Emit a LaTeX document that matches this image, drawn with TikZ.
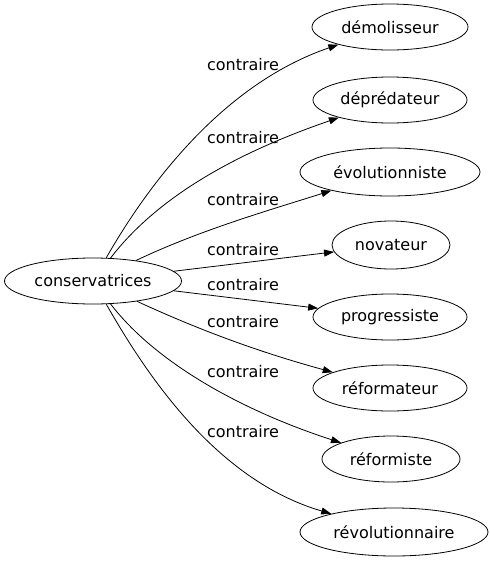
\documentclass[tikz,border=0pt]{standalone}
\usepackage{fontspec}
\setmainfont{DejaVu Sans}
\usetikzlibrary{shapes.geometric,arrows.meta}

\begin{document}
\begin{tikzpicture}[x=1pt,y=-1pt,line width=0.8pt,
  mot/.style={draw,ellipse,inner sep=0pt,font=\fontsize{16}{19}\selectfont},
  lien/.style={-{Triangle[length=10pt,width=7pt]}},
  etiq/.style={font=\fontsize{16}{19}\selectfont}]
\useasboundingbox (0,0) rectangle (490,563);
\node[mot,minimum width=177pt,minimum height=46pt] (cons) at (93,281) {conservatrices};
\node[mot,minimum width=156pt,minimum height=46pt] (demol) at (390,27) {démolisseur};
\node[mot,minimum width=154pt,minimum height=46pt] (depred) at (390,100) {déprédateur};
\node[mot,minimum width=180pt,minimum height=48pt] (evol) at (390,172) {évolutionniste};
\node[mot,minimum width=118pt,minimum height=48pt] (nov) at (391,245) {novateur};
\node[mot,minimum width=154pt,minimum height=46pt] (progr) at (390,317) {progressiste};
\node[mot,minimum width=154pt,minimum height=46pt] (reformat) at (390,388) {réformateur};
\node[mot,minimum width=138pt,minimum height=46pt] (reform) at (391,459) {réformiste};
\node[mot,minimum width=188pt,minimum height=48pt] (revol) at (394,532) {révolutionnaire};
\draw[lien] (cons) .. controls (145,190) and (220,85) .. (demol);
\draw[lien] (cons) .. controls (155,200) and (230,155) .. (depred);
\draw[lien] (cons) .. controls (200,230) and (270,210) .. (evol);
\draw[lien] (cons) -- (nov);
\draw[lien] (cons) -- (progr);
\draw[lien] (cons) .. controls (210,335) and (270,355) .. (reformat);
\draw[lien] (cons) .. controls (155,362) and (240,410) .. (reform);
\draw[lien] (cons) .. controls (145,372) and (215,480) .. (revol);
\node[etiq] (e1) at (243,65) {contraire};
\node[etiq] (e2) at (243,138) {contraire};
\node[etiq] (e3) at (243,200) {contraire};
\node[etiq] (e4) at (243,250) {contraire};
\node[etiq] (e5) at (243,285) {contraire};
\node[etiq] (e6) at (243,322) {contraire};
\node[etiq] (e7) at (243,372) {contraire};
\node[etiq] (e8) at (243,432) {contraire};
\end{tikzpicture}
\end{document}
